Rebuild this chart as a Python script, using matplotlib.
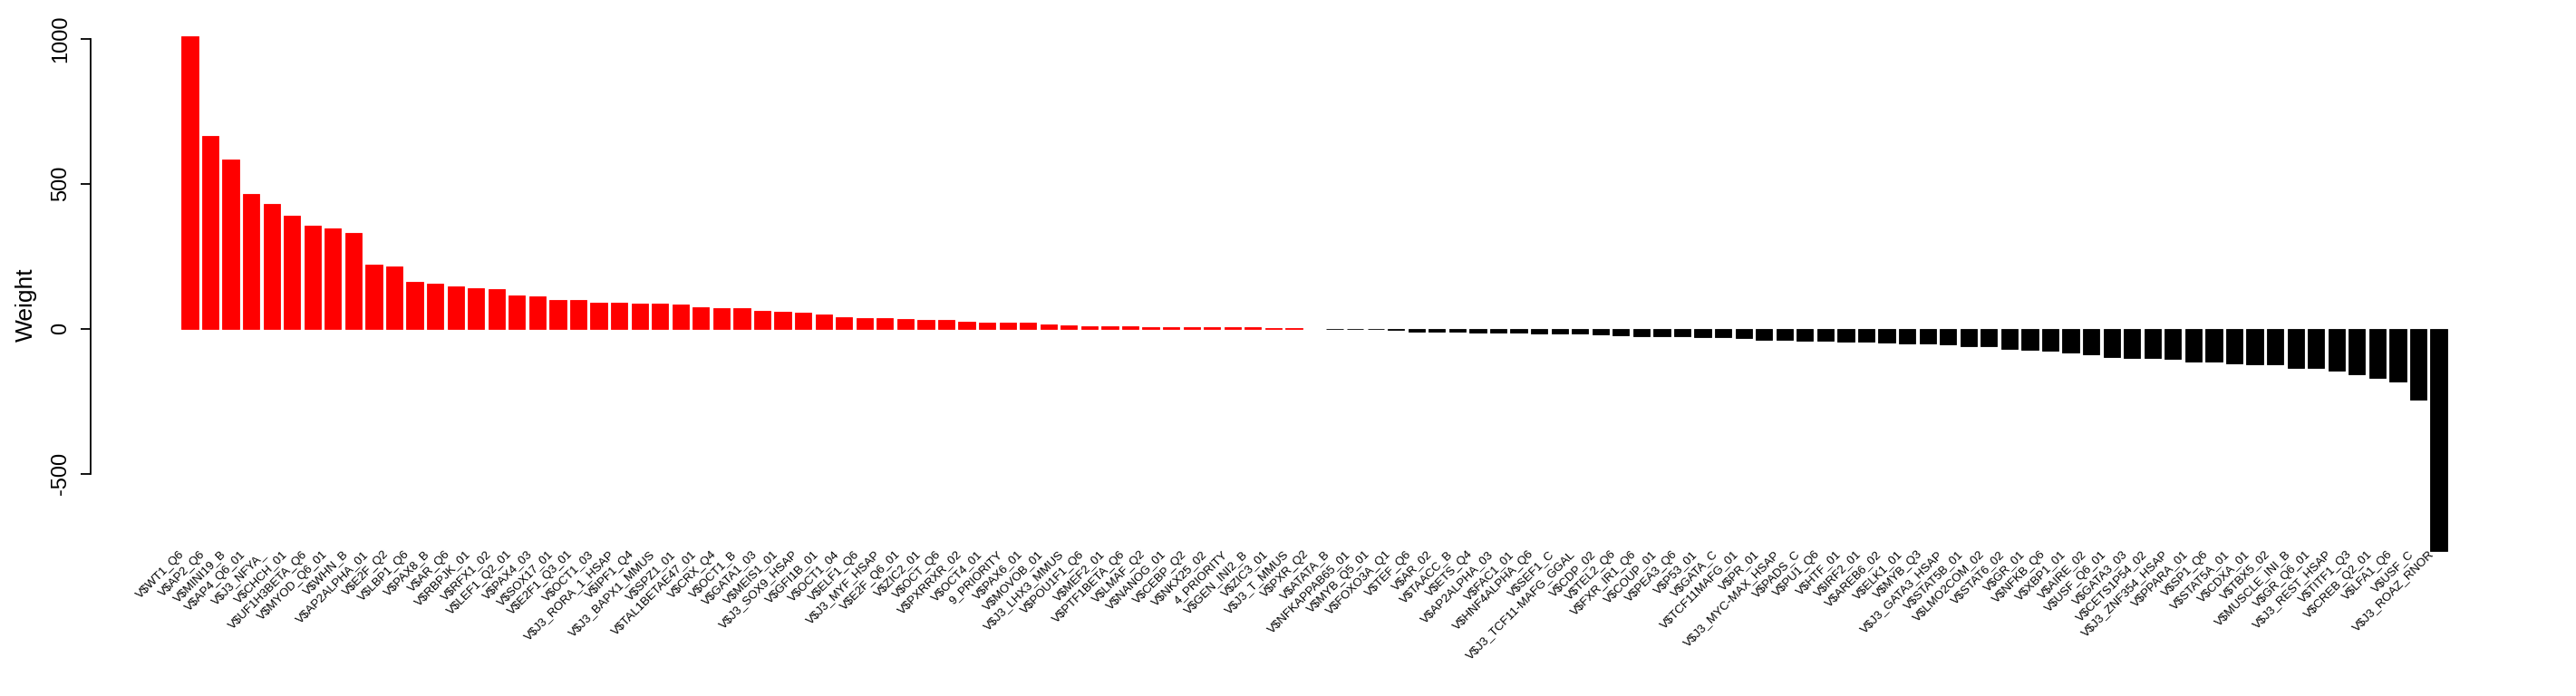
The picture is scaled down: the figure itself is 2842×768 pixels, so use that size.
import numpy as np
import matplotlib
matplotlib.use('Agg')
import matplotlib.pyplot as plt
import matplotlib.transforms as transforms

plt.rcParams['font.family'] = ['Liberation Sans', 'DejaVu Sans']

motifs = [
    'V$WT1_Q6', 'V$AP2_Q6', 'V$MINI19_B', 'V$AP4_Q6_01', 'V$J3_NFYA_',
    'V$CHCH_01', 'V$UF1H3BETA_Q6', 'V$MYOD_Q6_01', 'V$WHN_B', 'V$AP2ALPHA_01',
    'V$E2F_Q2', 'V$LBP1_Q6', 'V$PAX8_B', 'V$AR_Q6', 'V$RBPJK_01',
    'V$RFX1_02', 'V$LEF1_Q2_01', 'V$PAX4_03', 'V$SOX17_01', 'V$E2F1_Q3_01',
    'V$OCT1_03', 'V$J3_RORA_1_HSAP', 'V$IPF1_Q4', 'V$J3_BAPX1_MMUS', 'V$SPZ1_01',
    'V$TAL1BETAE47_01', 'V$CRX_Q4', 'V$OCT1_B', 'V$GATA1_03', 'V$MEIS1_01',
    'V$J3_SOX9_HSAP', 'V$GFI1B_01', 'V$OCT1_04', 'V$ELF1_Q6', 'V$J3_MYF_HSAP',
    'V$E2F_Q6_01', 'V$ZIC2_01', 'V$OCT_Q6', 'V$PXRRXR_02', 'V$OCT4_01',
    '9_PRIORITY', 'V$PAX6_01', 'V$MOVOB_01', 'V$J3_LHX3_MMUS', 'V$POU1F1_Q6',
    'V$MEF2_01', 'V$PTF1BETA_Q6', 'V$LMAF_Q2', 'V$NANOG_01', 'V$CEBP_Q2',
    'V$NKX25_02', '4_PRIORITY', 'V$GEN_INI2_B', 'V$ZIC3_01', 'V$J3_T_MMUS',
    'V$PXR_Q2', 'V$ATATA_B', 'V$NFKAPPAB65_01', 'V$MYB_Q5_01', 'V$FOXO3A_Q1',
    'V$TEF_Q6', 'V$AR_02', 'V$TAACC_B', 'V$ETS_Q4', 'V$AP2ALPHA_03',
    'V$FAC1_01', 'V$HNF4ALPHA_Q6', 'V$SEF1_C', 'V$J3_TCF11-MAFG_GGAL', 'V$CDP_02',
    'V$TEL2_Q6', 'V$FXR_IR1_Q6', 'V$COUP_01', 'V$PEA3_Q6', 'V$P53_01',
    'V$GATA_C', 'V$TCF11MAFG_01', 'V$PR_01', 'V$J3_MYC-MAX_HSAP', 'V$PADS_C',
    'V$PU1_Q6', 'V$HTF_01', 'V$IRF2_01', 'V$AREB6_02', 'V$ELK1_01',
    'V$MYB_Q3', 'V$J3_GATA3_HSAP', 'V$STAT5B_01', 'V$LMO2COM_02', 'V$STAT6_02',
    'V$GR_01', 'V$NFKB_Q6', 'V$XBP1_01', 'V$AIRE_02', 'V$USF_Q6_01',
    'V$GATA3_03', 'V$CETS1P54_02', 'V$J3_ZNF354_HSAP', 'V$PPARA_01', 'V$SP1_Q6',
    'V$STAT5A_01', 'V$CDXA_01', 'V$TBX5_02', 'V$MUSCLE_INI_B', 'V$GR_Q6_01',
    'V$J3_REST_HSAP', 'V$TITF1_Q3', 'V$CREB_Q2_01', 'V$LFA1_Q6', 'V$USF_C',
    'V$J3_ROAZ_RNOR',
]

weights = [
    1008, 665, 583, 465, 430, 390, 355, 346, 330, 221,
    215, 161, 155, 146, 140, 136, 115, 111, 99, 99,
    90, 90, 86, 86, 83, 74, 71, 71, 61, 58,
    55, 49, 40, 36, 36, 33, 30, 30, 24, 21,
    21, 21, 15, 11.5, 8, 8, 8, 5, 5, 5,
    5, 5, 5, 2, 2, 0, -2, -2, -2, -5,
    -10, -10, -10, -13, -13, -13, -17, -17, -17, -20,
    -23, -26, -26, -26, -29, -29, -32, -38, -38, -42,
    -42, -45, -45, -48, -51, -51, -54, -60, -60, -70,
    -73, -76, -82, -88, -98, -101, -101, -104, -113, -113,
    -120, -123, -123, -135, -135, -145, -157, -170, -182, -245,
    -766,
]

yticks = [-500, 0, 500, 1000]

# R-style barplot layout: width 1, space 0.2
width = 1.0
space = 0.2
n = len(weights)
x = np.arange(n) * (width + space) + space + width / 2
colors = ['red' if w > 0 else 'black' for w in weights]
edges = [c if w != 0 else 'none' for c, w in zip(colors, weights)]

fig = plt.figure(figsize=(28.42, 7.68), dpi=100)
ax = fig.add_axes([100 / 2842, 137.5 / 768, 2700 / 2842, 613.1 / 768])

# thin outline so near-zero bars still show as a 1px line, like the R device
ax.bar(x, weights, width * 0.97, color=colors, edgecolor=edges, linewidth=0.6)

x_lo, x_hi = x[0] - width / 2, x[-1] + width / 2
x_pad = 0.04 * (x_hi - x_lo)
ax.set_xlim(x_lo - x_pad, x_hi + x_pad)
y_lo, y_hi = min(0, min(weights)), max(weights)
y_pad = 0.04 * (y_hi - y_lo)
ax.set_ylim(y_lo - y_pad, y_hi + y_pad)

for side in ['top', 'right', 'bottom']:
    ax.spines[side].set_visible(False)
ax.spines['left'].set_bounds(yticks[0], yticks[-1])
ax.spines['left'].set_linewidth(1.3)

ax.set_xticks([])
ax.set_yticks(yticks)
ax.set_yticklabels([str(t) for t in yticks], rotation=90, va='center')
ax.tick_params(axis='y', direction='out', length=8, width=1.3, pad=8, labelsize=17)

ax.set_ylabel('Weight', fontsize=19)
ax.yaxis.set_label_coords(-0.022, 0.48)

trans = transforms.blended_transform_factory(ax.transData, ax.transAxes)
for xi, lab in zip(x, motifs):
    ax.text(xi - 0.4, 0.034, lab, transform=trans, rotation=45,
            ha='right', va='center', rotation_mode='anchor',
            fontsize=9.5, clip_on=False)

plt.savefig('out.png', dpi=100)
